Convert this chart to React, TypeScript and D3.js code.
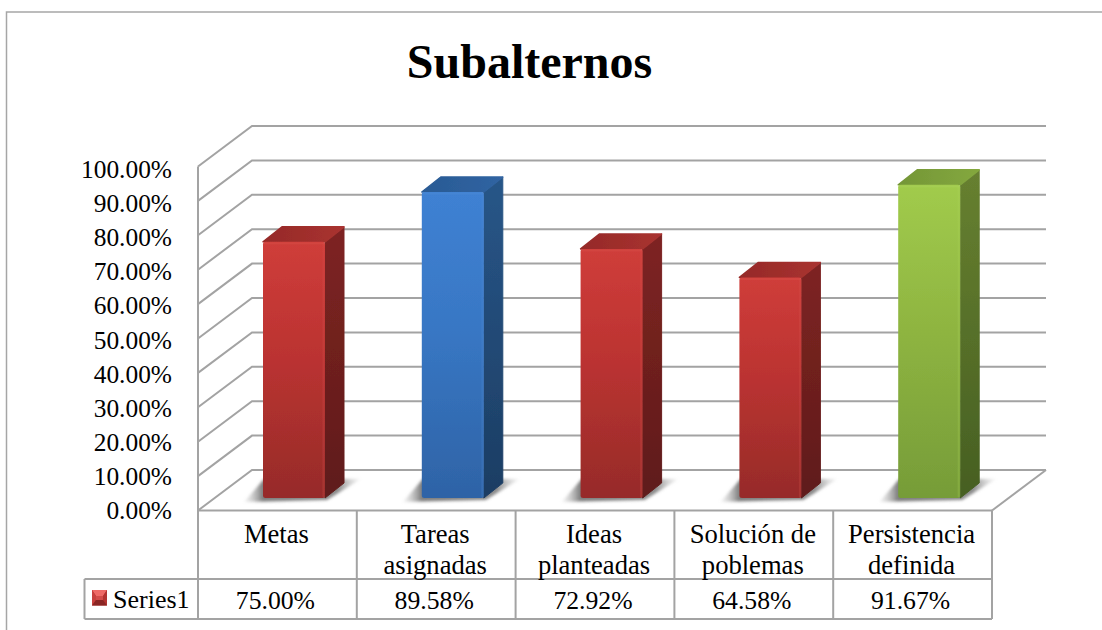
import React from "react";
import * as d3 from "d3";

const categories = [["Metas"], ["Tareas", "asignadas"], ["Ideas", "planteadas"], ["Solución de", "poblemas"], ["Persistencia", "definida"]];
const values = [75.0, 89.58, 72.92, 64.58, 91.67];
const valueLabels = ["75.00%", "89.58%", "72.92%", "64.58%", "91.67%"];
const yTicks = [0, 10, 20, 30, 40, 50, 60, 70, 80, 90, 100];
const seriesName = "Series1";
const palettes = [
  { hi: "#cf3d3a", mid: "#bb3331", lo: "#962b29", edge: "#d9524e", side: "#7e2422", sideLo: "#5f1b1a", top: "#952a28", topHi: "#a93230" },
  { hi: "#3f81d3", mid: "#3877c4", lo: "#2e63a6", edge: "#4f8cd8", side: "#285688", sideLo: "#1c3d63", top: "#2a5a94", topHi: "#3064a2" },
  { hi: "#cf3d3a", mid: "#bb3331", lo: "#962b29", edge: "#d9524e", side: "#7e2422", sideLo: "#5f1b1a", top: "#952a28", topHi: "#a93230" },
  { hi: "#cf3d3a", mid: "#bb3331", lo: "#962b29", edge: "#d9524e", side: "#7e2422", sideLo: "#5f1b1a", top: "#952a28", topHi: "#a93230" },
  { hi: "#a1cb4c", mid: "#8fb541", lo: "#769c38", edge: "#acd25c", side: "#678030", sideLo: "#465f22", top: "#749637", topHi: "#84a83e" },
];

const W = 1102;
const H = 630;
const font = "'Liberation Serif', 'Times New Roman', serif";
const grid = "#a3a3a3";

// Front plane of the 3D box and the offset to its back wall.
const frontLeft = 198;
const frontRight = 992;
const frontBottom = 510.5;
const depthX = 54;
const depthY = 40.5;
const plotHeight = 344;

const y = d3.scaleLinear().domain([0, 100]).range([frontBottom, frontBottom - plotHeight]);
const x = d3.scaleBand<number>().domain(d3.range(categories.length)).range([frontLeft, frontRight]);

// Tick labels sit on their own slightly tighter ladder beside the box.
const labelY = d3.scaleLinear().domain([0, 100]).range([519, 178]);

// Bars stand mid-depth on the floor, so their scale is a little shorter than the front plane.
const barBase = 498;
const barY = d3.scaleLinear().domain([0, 100]).range([barBase, barBase - 341.6]);
const barInset = 65;
const barWidth = 62;
const barDX = 19;
const barDY = 15;

const rowTop = frontBottom;
const rowMid = 579;
const rowBottom = 619;
const legendLeft = 84.5;
const cellFont = 26.6;

export default function App() {
  const poly = d3.line();
  const closed = (pts: [number, number][]) => (poly(pts) as string) + "Z";
  return (
    <svg
      width={W}
      height={H}
      viewBox={`0 0 ${W} ${H}`}
      style={{ position: "absolute", left: 0, top: 0, background: "#fff", fontFamily: font }}
    >
      <defs>
        {palettes.map((p, i) => (
          <React.Fragment key={i}>
            <linearGradient id={`front${i}`} x1="0" y1="0" x2="0" y2="1">
              <stop offset="0" stopColor={p.hi} />
              <stop offset="0.45" stopColor={p.mid} />
              <stop offset="1" stopColor={p.lo} />
            </linearGradient>
            <linearGradient id={`side${i}`} x1="0" y1="0" x2="0" y2="1">
              <stop offset="0" stopColor={p.side} />
              <stop offset="1" stopColor={p.sideLo} />
            </linearGradient>
            <linearGradient id={`top${i}`} x1="0" y1="0" x2="1" y2="0">
              <stop offset="0" stopColor={p.top} />
              <stop offset="1" stopColor={p.topHi} />
            </linearGradient>
          </React.Fragment>
        ))}
        <linearGradient id="floorShadow" x1="0" y1="0" x2="1" y2="0">
          <stop offset="0" stopColor="#bdbdbd" stopOpacity="0.15" />
          <stop offset="0.16" stopColor="#6f6f6f" stopOpacity="0.9" />
          <stop offset="0.8" stopColor="#777" stopOpacity="0.85" />
          <stop offset="1" stopColor="#bbb" stopOpacity="0.1" />
        </linearGradient>
        <filter id="soft" x="-20%" y="-50%" width="140%" height="200%">
          <feGaussianBlur stdDeviation="1.6" />
        </filter>
        <filter id="edge" x="-10%" y="-10%" width="120%" height="120%">
          <feGaussianBlur stdDeviation="0.5" />
        </filter>
      </defs>

      {/* chart frame, cropped on the right and at the bottom */}
      <path d={`M6.5 630V12H${W}`} fill="none" stroke="#a6a6a6" strokeWidth={1.5} />

      <text x={529.5} y={78} textAnchor="middle" fontSize={48} fontWeight="bold" fill="#000">
        Subalternos
      </text>

      {/* gridlines on the side and back walls */}
      {yTicks.map((t) => (
        <path
          key={t}
          d={poly([
            [frontLeft, y(t)],
            [frontLeft + depthX, y(t) - depthY],
            [frontRight + depthX, y(t) - depthY],
          ]) as string}
          fill="none"
          stroke={grid}
          strokeWidth={2}
        />
      ))}
      <path
        d={poly([
          [frontRight, frontBottom],
          [frontRight + depthX, frontBottom - depthY],
        ]) as string}
        stroke={grid}
        strokeWidth={2}
        fill="none"
      />
      <line x1={frontLeft} x2={frontLeft} y1={y(100)} y2={rowBottom} stroke={grid} strokeWidth={2} />

      {yTicks.map((t) => (
        <text key={t} x={172} y={labelY(t)} textAnchor="end" fontSize={25.4} fill="#000">
          {`${t.toFixed(2)}%`}
        </text>
      ))}

      {/* bars: floor shadow, then side, top and front faces */}
      {values.map((v, i) => {
        const left = (x(i) as number) + barInset;
        const right = left + barWidth;
        const base = barY(0);
        const top = barY(v);
        return (
          <g key={i}>
            <path
              d={closed([
                [left - 19, base + 4],
                [right + 2, base + 2],
                [right + barDX + 17, base - barDY - 4],
                [left + 1, base - barDY - 4],
              ])}
              fill="url(#floorShadow)"
              filter="url(#soft)"
            />
            <g filter="url(#edge)">
              <path
                d={closed([
                  [right, top],
                  [right + barDX, top - barDY],
                  [right + barDX, base - barDY],
                  [right, base],
                ])}
                fill={`url(#side${i})`}
                stroke={`url(#side${i})`}
                strokeLinejoin="round"
                strokeWidth={1}
              />
              <path
                d={closed([
                  [left, top],
                  [left + barDX, top - barDY],
                  [right + barDX, top - barDY],
                  [right, top],
                ])}
                fill={`url(#top${i})`}
                stroke={`url(#top${i})`}
                strokeLinejoin="round"
                strokeWidth={1.5}
              />
              <rect x={left} y={top} width={barWidth} height={base - top} rx={2.5} fill={`url(#front${i})`} />
              <rect x={right - 2.5} y={top + 1} width={2} height={base - top - 2} fill={palettes[i].edge} opacity={0.25} />
              <rect x={left + 0.5} y={top + 0.5} width={barWidth - 1} height={2} fill={palettes[i].edge} opacity={0.4} />
            </g>
          </g>
        );
      })}

      {/* data table under the plot */}
      <line x1={frontLeft} x2={frontRight} y1={rowTop} y2={rowTop} stroke={grid} strokeWidth={2} />
      <line x1={legendLeft} x2={frontRight} y1={rowMid} y2={rowMid} stroke={grid} strokeWidth={2} />
      <line x1={legendLeft} x2={frontRight} y1={rowBottom} y2={rowBottom} stroke={grid} strokeWidth={2} />
      <line x1={legendLeft} x2={legendLeft} y1={rowMid} y2={rowBottom} stroke={grid} strokeWidth={2} />
      {categories.map((_, i) => {
        const edge = (x(i) as number) + x.bandwidth();
        return <line key={i} x1={edge} x2={edge} y1={rowTop} y2={rowBottom} stroke={grid} strokeWidth={2} />;
      })}

      {categories.map((lines, i) => {
        const cx = (x(i) as number) + x.bandwidth() / 2 - 1;
        return (
          <g key={i}>
            {lines.map((line, j) => (
              <text key={j} x={cx} y={543 + j * 30.5} textAnchor="middle" fontSize={cellFont} fill="#000">
                {line}
              </text>
            ))}
            <text x={cx - 1} y={609} textAnchor="middle" fontSize={25.7} fill="#000">
              {valueLabels[i]}
            </text>
          </g>
        );
      })}

      {/* legend key: a small bevelled square */}
      <g>
        <rect x={92} y={590} width={15} height={15.5} fill="#b93230" />
        <path d={closed([[92, 590], [107, 590], [103, 596], [96, 596]])} fill="#ee6a66" />
        <path d={closed([[92, 590], [96, 596], [96, 600], [92, 605.5]])} fill="#c8413e" />
        <path d={closed([[107, 590], [103, 596], [103, 600], [107, 605.5]])} fill="#b33431" />
        <path d={closed([[92, 605.5], [96, 600], [103, 600], [107, 605.5]])} fill="#8a2624" />
        <rect x={96} y={596} width={7} height={4} fill="#d24c49" />
      </g>
      <text x={113} y={608} fontSize={26} fill="#000">
        {seriesName}
      </text>
    </svg>
  );
}
